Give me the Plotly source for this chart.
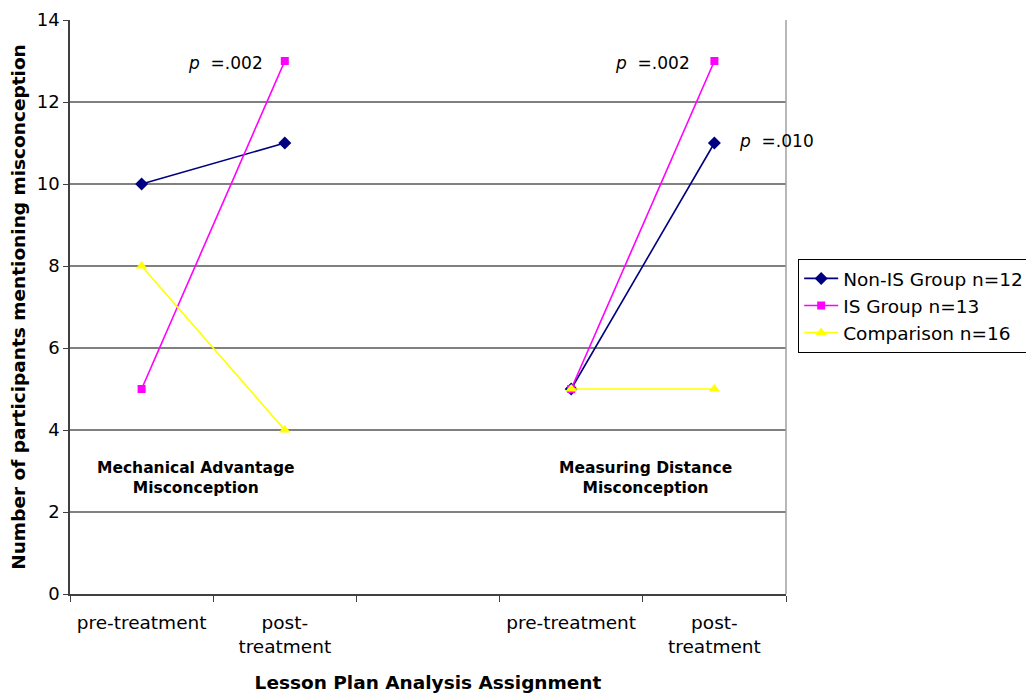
import plotly.graph_objects as go

# ---- data ----
categories = ["pre-treatment", "post-<br>treatment", "", "pre-treatment", "post-<br>treatment"]
x_pos = [0, 1, 2, 3, 4]
non_is = [10, 11, None, 5, 11]
is_group = [5, 13, None, 5, 13]
comparison = [8, 4, None, 5, 5]
series_names = ["Non-IS Group n=12", "IS Group n=13", "Comparison n=16"]

p_texts = ["<i>p</i>  =.002", "<i>p</i>  =.002", "<i>p</i>  =.010"]
p_x = [0.584, 3.57, 4.437]
p_y = [12.95, 12.95, 11.05]

group_labels = ["<b>Mechanical Advantage<br>Misconception</b>", "<b>Measuring Distance<br>Misconception</b>"]
group_x = [0.381, 3.52]
group_y = [2.83, 2.83]

y_ticks = [0, 2, 4, 6, 8, 10, 12, 14]

FONT = "DejaVu Sans, Verdana, sans-serif"

fig = go.Figure()
styles = [
    dict(color="#000080", symbol="diamond", size=10),
    dict(color="#FF00FF", symbol="square", size=8),
    dict(color="#FFFF00", symbol="triangle-up", size=10),
]
for i, (name, vals) in enumerate(zip(series_names, [non_is, is_group, comparison])):
    st = styles[i]
    fig.add_trace(go.Scatter(
        x=x_pos, y=vals, name=name, mode="lines+markers",
        connectgaps=False, legendgroup=f"g{i}",
        line=dict(color=st["color"], width=1.6),
        marker=dict(color=st["color"], symbol=st["symbol"], size=st["size"]),
        xaxis="x", yaxis="y",
    ))

# invisible trace on overlay axis for category labels
fig.add_trace(go.Scatter(x=x_pos, y=[None]*5, xaxis="x2", yaxis="y",
                         showlegend=False, hoverinfo="skip"))

annotations = []
for t, x, y in zip(p_texts, p_x, p_y):
    annotations.append(dict(x=x, y=y, xref="x", yref="y", text=t, showarrow=False,
                            font=dict(family=FONT, size=17, color="black")))
for t, x, y in zip(group_labels, group_x, group_y):
    annotations.append(dict(x=x, y=y, xref="x", yref="y", text=t, showarrow=False,
                            font=dict(family=FONT, size=15.5, color="black")))

boundaries = [-0.5, 0.5, 1.5, 2.5, 3.5, 4.5]

fig.update_layout(
    width=1034, height=694,
    margin=dict(l=62, r=256, t=12, b=108, autoexpand=False),
    paper_bgcolor="white", plot_bgcolor="white",
    font=dict(family=FONT, size=18, color="black"),
    showlegend=True,
    legend=dict(
        x=1.017, y=0.502, xanchor="left", yanchor="middle",
        bordercolor="black", borderwidth=1, bgcolor="white",
        font=dict(family=FONT, size=18.5, color="black"),
        itemwidth=34, tracegroupgap=0, traceorder="grouped",
    ),
    xaxis=dict(
        range=[-0.5, 4.5], tickmode="array", tickvals=boundaries,
        ticktext=[""] * len(boundaries), ticks="outside", ticklen=6,
        tickcolor="#404040", tickwidth=1, showline=True, linecolor="#404040",
        linewidth=1.5, showgrid=False, zeroline=False, automargin=False,
        title=dict(text="<b>Lesson Plan Analysis Assignment</b>",
                   font=dict(family=FONT, size=18.5), standoff=72),
    ),
    xaxis2=dict(
        overlaying="x", anchor="y", side="bottom", range=[-0.5, 4.5],
        tickmode="array", tickvals=x_pos, ticktext=categories,
        ticks="", showline=False, showgrid=False, zeroline=False, automargin=False,
        ticklabelstandoff=15, tickfont=dict(family=FONT, size=18.5, color="black"),
    ),
    yaxis=dict(
        range=[0, 14], tickmode="array", tickvals=y_ticks,
        ticks="outside", ticklen=5, tickcolor="#404040",
        showline=True, linecolor="#404040", linewidth=1.5, automargin=False,
        showgrid=True, gridcolor="#808080", gridwidth=1.5, zeroline=False,
        tickfont=dict(family=FONT, size=18, color="black"),
        title=dict(text="<b>Number of participants mentioning misconception</b>",
                   font=dict(family=FONT, size=18.5), standoff=10),
    ),
    annotations=annotations,
    shapes=[dict(type="line", xref="x domain", yref="y domain", x0=1, x1=1, y0=0, y1=1,
                 line=dict(color="#A0A0A0", width=1.5))],
)

fig.write_html("out.html")
